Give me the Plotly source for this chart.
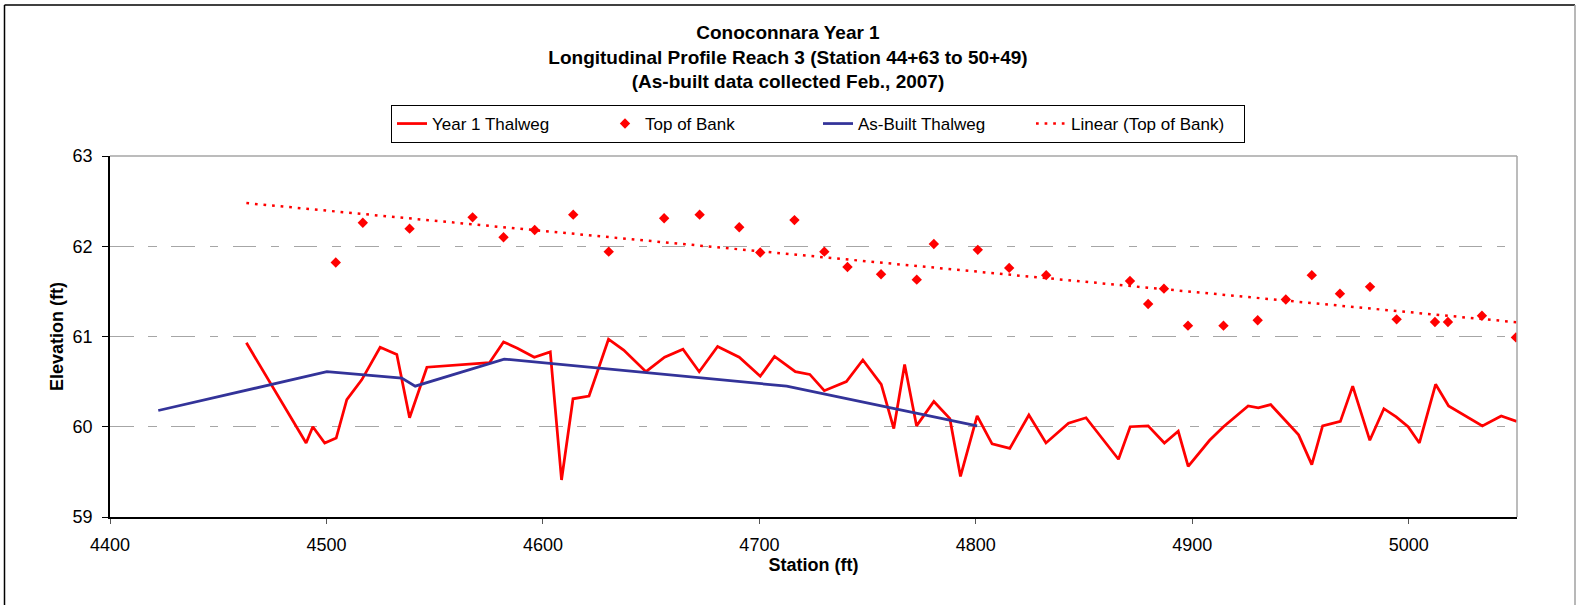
import numpy as np
import plotly.graph_objects as go

# ---------------- data ----------------
y1_station = [4463.0, 4490.6, 4493.7, 4499.2, 4504.5, 4509.4, 4516.3, 4524.8, 4532.5, 4538.4,
              4546.4, 4575.3, 4581.8, 4588.2, 4596.0, 4603.4, 4608.6, 4613.9, 4621.3, 4630.3,
              4637.3, 4647.6, 4656.2, 4664.7, 4672.2, 4680.7, 4690.7, 4700.4, 4707.0, 4716.6,
              4723.3, 4730.0, 4740.2, 4747.8, 4756.3, 4762.1, 4767.1, 4772.6, 4780.6, 4788.0,
              4792.9, 4800.6, 4807.5, 4815.7, 4824.5, 4832.4, 4842.8, 4850.9, 4865.9, 4871.3,
              4879.6, 4887.1, 4893.5, 4898.1, 4908.0, 4914.4, 4925.8, 4930.5, 4936.2, 4949.1,
              4955.2, 4960.2, 4968.4, 4974.1, 4982.0, 4988.5, 4994.2, 4999.7, 5004.9, 5012.4,
              5018.4, 5034.0, 5042.7, 5049.9]
y1_elev = [60.93, 59.82, 60.00, 59.82, 59.875, 60.30, 60.52, 60.88, 60.80, 60.10,
           60.66, 60.71, 60.94, 60.87, 60.77, 60.83, 59.41, 60.31, 60.34, 60.97,
           60.85, 60.61, 60.77, 60.86, 60.61, 60.89, 60.77, 60.56, 60.78, 60.61,
           60.58, 60.40, 60.50, 60.74, 60.47, 59.98, 60.69, 60.01, 60.28, 60.09,
           59.45, 60.12, 59.81, 59.76, 60.13, 59.82, 60.04, 60.10, 59.64, 60.00,
           60.01, 59.82, 59.95, 59.56, 59.85, 60.00, 60.23, 60.21, 60.245, 59.91,
           59.58, 60.01, 60.06, 60.45, 59.85, 60.20, 60.11, 60.00, 59.82, 60.47,
           60.23, 60.01, 60.12, 60.06]

tob_station = [4504.3, 4516.8, 4538.4, 4567.5, 4581.8, 4596.2, 4614.0, 4630.4, 4656.0, 4672.4,
               4690.7, 4700.4, 4716.2, 4730.0, 4740.7, 4756.2, 4772.7, 4780.6, 4800.9, 4815.4,
               4832.5, 4871.2, 4879.6, 4886.9, 4898.0, 4914.4, 4930.2, 4943.2, 4955.2, 4968.2,
               4982.1, 4994.4, 5012.1, 5018.1, 5033.8, 5049.5]
tob_elev = [61.82, 62.26, 62.195, 62.32, 62.10, 62.18, 62.35, 61.94, 62.31, 62.35,
            62.21, 61.93, 62.29, 61.94, 61.77, 61.69, 61.63, 62.025, 61.96, 61.76,
            61.68, 61.615, 61.36, 61.53, 61.12, 61.12, 61.18, 61.41, 61.68, 61.475,
            61.55, 61.19, 61.16, 61.16, 61.23, 60.99]

ab_station = [4422.3, 4500.2, 4534.8, 4541.0, 4582.1, 4712.6, 4800.6]
ab_elev = [60.18, 60.61, 60.54, 60.45, 60.75, 60.45, 60.01]

x_ticks = [4400, 4500, 4600, 4700, 4800, 4900, 5000]
y_ticks = [59, 60, 61, 62, 63]

title_lines = ["Conoconnara Year 1",
               "Longitudinal Profile Reach 3 (Station 44+63 to 50+49)",
               "(As-built data collected Feb., 2007)"]

# linear trend of Top of Bank (as Excel's linear trendline)
slope, intercept = np.polyfit(tob_station, tob_elev, 1)
trend_x = [min(y1_station), max(y1_station)]
trend_y = [slope * v + intercept for v in trend_x]

# ---------------- figure ----------------
W, H = 1576, 605
ML, MR, MT, MB = 110, 59, 156, 88
PW, PH = W - ML - MR, H - MT - MB
FONT = "Arial, 'Liberation Sans', sans-serif"

def px_x(p):
    return (p - ML) / PW

def px_y(p):
    return (H - MB - p) / PH

fig = go.Figure()
fig.add_trace(go.Scatter(x=y1_station, y=y1_elev, mode="lines", name="Year 1 Thalweg",
                         line=dict(color="#FF0000", width=2.75)))
fig.add_trace(go.Scatter(x=tob_station, y=tob_elev, mode="markers", name="Top of Bank",
                         marker=dict(symbol="diamond", size=8, color="#FF0000")))
fig.add_trace(go.Scatter(x=ab_station, y=ab_elev, mode="lines", name="As-Built Thalweg",
                         line=dict(color="#333399", width=2.75)))
fig.add_trace(go.Scatter(x=trend_x, y=trend_y, mode="lines", name="Linear (Top of Bank)",
                         line=dict(color="#FF0000", width=2.5, dash="2.7px,5.9px")))

shapes = [
    # plot area top & right border (gray)
    dict(type="line", xref="paper", yref="paper", x0=0, x1=1, y0=1, y1=1,
         line=dict(color="#A6A6A6", width=1.5)),
    dict(type="line", xref="paper", yref="paper", x0=1, x1=1, y0=0, y1=1,
         line=dict(color="#A6A6A6", width=1.5)),
    # chart outer border
    dict(type="line", xref="paper", yref="paper", x0=px_x(4.5), x1=px_x(4.5), y0=px_y(5), y1=px_y(606),
         line=dict(color="#000000", width=1.5)),
    dict(type="line", xref="paper", yref="paper", x0=px_x(4.5), x1=px_x(1575), y0=px_y(5), y1=px_y(5),
         line=dict(color="#000000", width=1.5)),
    dict(type="line", xref="paper", yref="paper", x0=px_x(1575), x1=px_x(1575), y0=px_y(5), y1=px_y(606),
         line=dict(color="#A0A0A0", width=1.5)),
]

fig.update_layout(
    width=W, height=H,
    margin=dict(l=ML, r=MR, t=MT, b=MB, pad=0),
    paper_bgcolor="white", plot_bgcolor="white",
    font=dict(family=FONT, color="black", size=18),
    title=dict(text="<br>".join("<b>%s</b>" % t for t in title_lines),
               x=0.5, xref="container", xanchor="center",
               y=1 - 39 / H, yref="container", yanchor="top",
               font=dict(family=FONT, size=19, color="black")),
    showlegend=True,
    legend=dict(orientation="h", x=px_x(818), xanchor="center", y=px_y(105), yanchor="top",
                bordercolor="black", borderwidth=1, bgcolor="white",
                font=dict(family=FONT, size=17, color="black"),
                entrywidth=168, entrywidthmode="pixels", tracegroupgap=0),
    shapes=shapes,
    xaxis=dict(range=[4400, 5050], tickvals=x_ticks, ticktext=[str(v) for v in x_ticks],
               showgrid=False, zeroline=False,
               showline=True, linecolor="black", linewidth=1.5,
               ticks="outside", ticklen=5, tickwidth=1.2, tickcolor="#555555",
               tickfont=dict(size=18), ticklabelstandoff=6,
               title=dict(text="<b>Station (ft)</b>", font=dict(size=18), standoff=3)),
    yaxis=dict(range=[59, 63], tickvals=y_ticks, ticktext=[str(v) for v in y_ticks],
               showgrid=True, gridcolor="#A6A6A6", gridwidth=1.2,
               griddash="23.5px,14.8px,8.3px,14.7px", zeroline=False,
               showline=True, linecolor="black", linewidth=1.5,
               ticks="outside", ticklen=6, tickwidth=1.2, tickcolor="black",
               tickfont=dict(size=18), ticklabelstandoff=6,
               title=dict(text="<b>Elevation (ft)</b>", font=dict(size=18), standoff=4)),
)

fig.write_html("out.html", config={"displayModeBar": False},
               post_script="document.body.style.margin='0';document.body.style.overflow='hidden';")
